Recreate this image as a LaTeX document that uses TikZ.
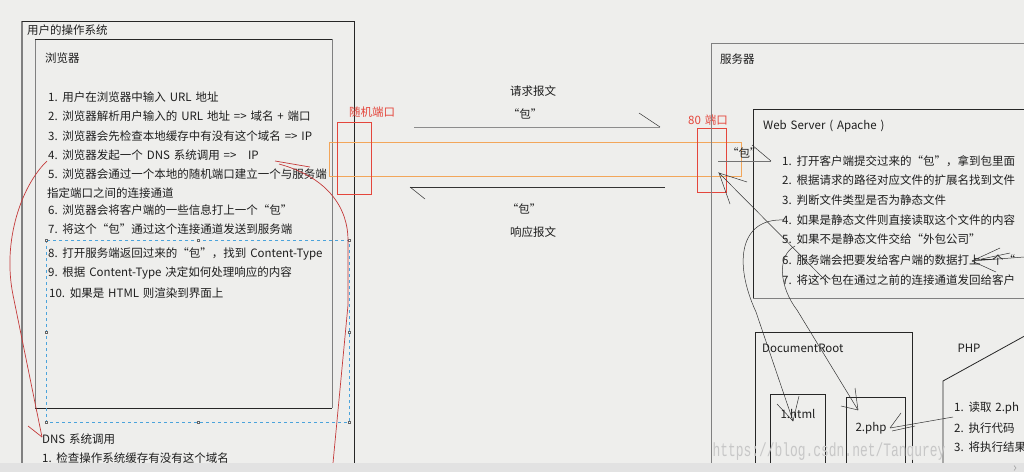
\documentclass[tikz,border=0pt]{standalone}
\usepackage{fontspec}
\setmainfont{Noto Sans CJK SC}[WordSpace=1.5]
\newfontfamily\wmfont{Liberation Mono}
\definecolor{bgc}{RGB}{238,238,236}
\definecolor{stripc}{RGB}{226,226,226}
\definecolor{redl}{RGB}{196,58,58}
\definecolor{redt}{RGB}{228,70,60}
\definecolor{orangel}{RGB}{242,166,90}
\definecolor{bluel}{RGB}{75,163,219}
\definecolor{grayl}{RGB}{128,128,128}
\definecolor{txtc}{RGB}{30,30,30}
\begin{document}
\begin{tikzpicture}[x=1pt,y=-1pt,
  txt/.style={anchor=west,inner sep=0pt,text=txtc,font=\fontsize{11.5}{13}\selectfont},
  ctxt/.style={anchor=center,inner sep=0pt,text=txtc,font=\fontsize{11.5}{13}\selectfont},
  rtxt/.style={anchor=west,inner sep=0pt,text=redt,font=\fontsize{11.5}{13}\selectfont},
  darkbox/.style={draw=black!85,line width=0.8pt},
  graybox/.style={draw=grayl,line width=0.9pt},
  redcurve/.style={draw=redl,line width=0.7pt},
  pen/.style={draw=black!80,line width=0.5pt},
  handle/.style={draw=black!60,fill=white,line width=0.3pt,minimum size=2.6pt,inner sep=0pt},
]
\useasboundingbox (0,0) rectangle (1024,472);
\fill[bgc] (0,0) rectangle (1024,472);
\begin{scope}
\clip (0,0) rectangle (1024,463);

% ---------- client side ----------
\draw[graybox,line width=1.2pt] (22,463) -- (22,21);
\draw[darkbox] (22,21) -- (354,21) -- (354,463);
\node[txt] (os) at (27,30) {用户的操作系统};

\draw[graybox] (35,408) -- (35,39);
\draw[darkbox] (35,39) -- (332,39);
\draw[graybox] (332,39) -- (332,408);
\draw[darkbox] (35,408) -- (332,408);
\node[txt] (br) at (45,58) {浏览器};

\node[txt] (c1) at (48,97) {1. 用户在浏览器中输入 URL 地址};
\node[txt] (c2) at (48,116) {2. 浏览器解析用户输入的 URL 地址 => 域名 + 端口};
\node[txt] (c3) at (48,136) {3. 浏览器会先检查本地缓存中有没有这个域名 => IP};
\node[txt] (c4) at (48,155) {4. 浏览器发起一个 DNS 系统调用 =>\ \ \ IP};
\node[txt] (c5) at (48,174) {5. 浏览器会通过一个本地的随机端口建立一个与服务端};
\node[txt] (c5b) at (47,193) {指定端口之间的连接通道};
\node[txt] (c6) at (48,210) {6. 浏览器会将客户端的一些信息打上一个“包”};
\node[txt] (c7) at (48,229) {7. 将这个“包”通过这个连接通道发送到服务端};
\node[txt] (c8) at (48,254) {8. 打开服务端返回过来的“包”，找到 Content-Type};
\node[txt] (c9) at (48,273) {9. 根据 Content-Type 决定如何处理响应的内容};
\node[txt] (c10) at (49,293) {10. 如果是 HTML 则渲染到界面上};

% selection frame
\draw[bluel,dashed,line width=0.6pt] (46,240) rectangle (349,422);
\foreach \hx/\hy [count=\i] in {46/240,198/240,349/240,46/332,349/332,46/422,198/422,349/422}
  \node[handle] (h\i) at (\hx,\hy) {};

\node[txt] (dns) at (42,439) {DNS 系统调用};
\node[txt] (dns1) at (42,458) {1. 检查操作系统缓存有没有这个域名};

% red curves
\coordinate (r1s) at (47,161);
\coordinate (r1e) at (42,437);
\draw[redcurve] (r1s) .. controls (22,185) and (2,240) .. (13,295) -- (r1e);
\draw[redcurve] (r1e) -- (28,426);
\coordinate (r2s) at (279,164);
\coordinate (r2e) at (333,463);
\draw[redcurve] (r2s) .. controls (330,178) and (348,210) .. (348,240) -- (348,305) -- (r2e);
\draw[redcurve] (275,161) -- (310,167);

% ---------- channel ----------
\draw[orangel,line width=0.8pt] (329,142) rectangle (741,176);
\draw[redt,line width=0.8pt] (337,122) rectangle (371,194);
\draw[redt,line width=0.8pt] (697,128) rectangle (726,192);
\node[rtxt] (rp) at (349,112) {随机端口};
\node[rtxt] (p80) at (688,120) {80 端口};

\node[ctxt] (req) at (533,91) {请求报文};
\node[ctxt] (reqp) at (525,114) {“包”};
\coordinate (qs) at (414,127);
\coordinate (qe) at (660,127);
\draw[draw=black!45,line width=1pt] (qs) -- (qe);
\draw[pen] (qe) -- (639,113);

\coordinate (ps) at (665,187);
\coordinate (pe) at (410,187);
\draw[draw=black!80,line width=0.8pt] (ps) -- (pe);
\draw[pen] (pe) -- (425,199);
\node[ctxt] (resp) at (524,209) {“包”};
\node[ctxt] (res) at (533,232) {响应报文};

% ---------- server side ----------
\draw[graybox] (711,463) -- (711,43) -- (1024,43);
\node[txt] (srv) at (720,59) {服务器};

\draw[darkbox] (1024,109) -- (753,109) -- (753,298);
\draw[graybox] (753,298) -- (1024,298);
\node[txt] (ws) at (763,126) {Web Server ( Apache )};

\node[txt] (spk) at (727,153) {“包”};
\coordinate (sa) at (718,161);
\coordinate (sb) at (771,161);
\draw[draw=black!55,line width=0.8pt] (sa) -- (sb);
\draw[pen] (sb) -- (752,145);

\node[txt] (s1) at (782,161) {1. 打开客户端提交过来的“包”，拿到包里面};
\node[txt] (s2) at (782,180) {2. 根据请求的路径对应文件的扩展名找到文件};
\node[txt] (s3) at (782,200) {3. 判断文件类型是否为静态文件};
\node[txt] (s4) at (782,220) {4. 如果是静态文件则直接读取这个文件的内容};
\node[txt] (s5) at (782,239) {5. 如果不是静态文件交给“外包公司”};
\node[txt] (s6) at (782,260) {6. 服务端会把要发给客户端的数据打上一个“};
\node[txt] (s7) at (782,280) {7. 将这个包在通过之前的连接通道发回给客户};

% DocumentRoot
\draw[darkbox] (755,463) -- (755,332) -- (912,332) -- (912,463);
\node[txt] (dr) at (762,348) {DocumentRoot};
\draw[darkbox] (770,463) -- (770,394) -- (825,394) -- (825,463);
\node[ctxt] (f1) at (798,414) {1.html};
\draw[darkbox] (846,463) -- (846,397) -- (905,397) -- (905,463);
\node[ctxt] (f2) at (871,428) {2.php};

% PHP
\draw[darkbox] (943,463) -- (943,381) -- (1030,333);
\node[ctxt] (php) at (969,348) {PHP};
\node[txt] (p1) at (954,408) {1. 读取 2.ph};
\node[txt] (p2) at (954,428) {2. 执行代码};
\node[txt] (p3) at (954,447) {3. 将执行结果};

% pen strokes
\coordinate (b7) at (828,283);
\coordinate (bt) at (719,173);
\draw[pen] (b7) -- (bt) -- (747,182);
\draw[pen] (bt) -- (730,204);

\coordinate (k4) at (784,220);
\coordinate (k4e) at (793,421);
\draw[pen] (k4) .. controls (740,218) and (733,262) .. (756,312) -- (k4e);
\draw[pen] (k4e) -- (777,404);
\draw[pen] (k4e) -- (799,396);

\coordinate (k5) at (795,246);
\coordinate (k5e) at (858,410);
\draw[pen] (k5) .. controls (776,256) and (780,288) .. (797,310) -- (k5e);
\draw[pen] (k5e) -- (855,388);
\draw[pen] (k5e) -- (841,406);

\coordinate (k2) at (890,428);
\draw[pen] (953,417) -- (k2);
\draw[pen] (915,426) -- (892,431);
\draw[pen] (k2) -- (901,413);

\coordinate (k6) at (972,261);
\draw[pen] (1024,257) -- (k6);
\draw[pen] (1010,253) -- (k6);
\draw[pen] (k6) -- (996,272);
\draw[pen] (k6) -- (1000,248);

% watermark
\node[anchor=center,inner sep=0pt,text=black!22,font=\wmfont\fontsize{19}{20}\selectfont] (wm) at (829,452) {\scalebox{0.68}[1]{https://blog.csdn.net/Tanqurey}};
\end{scope}

% bottom strip
\fill[stripc] (0,463) rectangle (1024,472);
\coordinate (chv) at (1016,468);
\draw[black!40,line width=0.5pt] (1014,465.5) -- (chv) -- (1014,470.5);
\end{tikzpicture}
\end{document}
